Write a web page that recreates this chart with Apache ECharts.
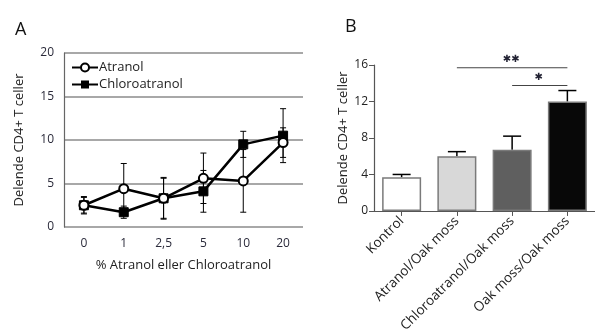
<!DOCTYPE html>
<html><head><meta charset="utf-8">
<script src="https://cdn.jsdelivr.net/npm/echarts@6/dist/echarts.min.js"></script>
<style>html,body{margin:0;padding:0;background:#fff}#c{width:595px;height:335px}</style>
</head><body><div id="c"></div>
<script>
// Panel A
const concA = ['0', '1', '2,5', '5', '10', '20'];
const atranolVals = [2.5, 4.4, 3.3, 5.6, 5.3, 9.7];
const atranolErr = [1.0, 2.9, 2.4, 2.9, 3.6, 1.7];
const chloroVals = [2.5, 1.7, 3.3, 4.1, 9.5, 10.5];
const chloroErr = [0.9, 0.7, 2.3, 2.4, 1.5, 3.1];
const yTicksA = [0, 5, 10, 15, 20];
// Panel B
const groupsB = ['Kontrol', 'Atranol/Oak moss', 'Chloroatranol/Oak moss', 'Oak moss/Oak moss'];
const barVals = [3.7, 6.0, 6.7, 12.0];
const barErr = [0.3, 0.5, 1.5, 1.2];
const barColors = ['#ffffff', '#d8d8d8', '#5f5f5f', '#080808'];
const yTicksB = [0, 4, 8, 12, 16];
const sigFrom = [1, 2];
const sigTo = [3, 3];
const sigLevel = [15.7, 13.75];
const sigText = ['✱✱', '✱'];

const FA = 'Open Sans';
const chart = echarts.init(document.getElementById('c'), null, {renderer: 'canvas'});

function errRender(capW, upOnly) {
  return function (params, api) {
    const i = api.value(0), v = api.value(1), e = api.value(2);
    const top = api.coord([i, v + e]);
    const bot = api.coord([i, upOnly ? v : v - e]);
    const children = [
      {type: 'line', shape: {x1: top[0], y1: top[1], x2: bot[0], y2: bot[1]}, style: {stroke: '#000', lineWidth: upOnly ? 1.5 : 1}},
      {type: 'line', shape: {x1: top[0] - capW / 2, y1: top[1], x2: top[0] + capW / 2, y2: top[1]}, style: {stroke: '#000', lineWidth: upOnly ? 1.5 : 1}}
    ];
    if (!upOnly) children.push({type: 'line', shape: {x1: bot[0] - capW / 2, y1: bot[1], x2: bot[0] + capW / 2, y2: bot[1]}, style: {stroke: '#000', lineWidth: 1}});
    return {type: 'group', children: children};
  };
}

const option = {
  animation: false,
  backgroundColor: '#fff',
  textStyle: {fontFamily: FA},
  title: [
    {text: 'A', left: 10, top: 16, textStyle: {fontSize: 18, fontWeight: 'normal', color: '#111', fontFamily: FA}},
    {text: 'B', left: 340, top: 13, textStyle: {fontSize: 18, fontWeight: 'normal', color: '#111', fontFamily: FA}}
  ],
  legend: {
    left: 66, top: 56, orient: 'vertical', itemGap: 4, itemWidth: 26, itemHeight: 10,
    data: ['Atranol', 'Chloroatranol'],
    textStyle: {fontSize: 13, color: '#222', fontFamily: FA, padding: [0, 0, 0, -4]}
  },
  grid: [
    {left: 64, right: 292, top: 53, bottom: 108},
    {left: 374, right: -4, top: 65, bottom: 121}
  ],
  xAxis: [
    {
      type: 'category', gridIndex: 0, data: concA, boundaryGap: true,
      axisLine: {show: false}, axisTick: {show: false},
      axisLabel: {color: '#2a2a3a', fontSize: 12, margin: 11, fontFamily: FA},
      name: '% Atranol eller Chloroatranol', nameLocation: 'middle', nameGap: 32,
      nameTextStyle: {fontSize: 13, color: '#222', fontFamily: FA}
    },
    {
      type: 'category', gridIndex: 1, data: groupsB,
      axisLine: {lineStyle: {color: '#555', width: 1.2}},
      axisTick: {show: true, alignWithLabel: true, length: 5, lineStyle: {color: '#555'}},
      axisLabel: {rotate: 45, fontSize: 13.5, color: '#222', margin: 8, fontFamily: FA}
    }
  ],
  yAxis: [
    {
      type: 'value', gridIndex: 0, min: 0, max: 20, interval: 5,
      axisLine: {show: true, lineStyle: {color: '#666', width: 1.2}},
      axisTick: {show: false},
      axisLabel: {color: '#2a2a3a', fontSize: 12, margin: 10, fontFamily: FA,
        formatter: function (v) { return yTicksA.indexOf(v) >= 0 ? String(v) : ''; }},
      splitLine: {show: true, lineStyle: {color: '#a8a8a8', width: 2}},
      name: 'Delende CD4+ T celler', nameLocation: 'middle', nameGap: 38,
      nameTextStyle: {fontSize: 13, color: '#222', fontFamily: FA}
    },
    {
      type: 'value', gridIndex: 1, min: 0, max: 16, interval: 4,
      axisLine: {show: true, lineStyle: {color: '#555', width: 1.2}},
      axisTick: {show: true, length: 5, lineStyle: {color: '#555'}},
      axisLabel: {color: '#222', fontSize: 12, margin: 6, fontFamily: FA,
        formatter: function (v) { return yTicksB.indexOf(v) >= 0 ? String(v) : ''; }},
      splitLine: {show: false},
      name: 'Delende CD4+ T celler', nameLocation: 'middle', nameGap: 24,
      nameTextStyle: {fontSize: 13, color: '#222', fontFamily: FA}
    }
  ],
  series: [
    {
      type: 'custom', xAxisIndex: 0, yAxisIndex: 0, z: 1, silent: true,
      renderItem: errRender(6, false),
      data: atranolVals.map((v, i) => [i, v, atranolErr[i]])
    },
    {
      type: 'custom', xAxisIndex: 0, yAxisIndex: 0, z: 1, silent: true,
      renderItem: errRender(6, false),
      data: chloroVals.map((v, i) => [i, v, chloroErr[i]])
    },
    {
      name: 'Chloroatranol', type: 'line', xAxisIndex: 0, yAxisIndex: 0, z: 3,
      data: chloroVals, symbol: 'rect', symbolSize: 9, showAllSymbol: true,
      lineStyle: {color: '#000', width: 2.5},
      itemStyle: {color: '#000', borderColor: '#000'}
    },
    {
      name: 'Atranol', type: 'line', xAxisIndex: 0, yAxisIndex: 0, z: 4,
      data: atranolVals, symbol: 'circle', symbolSize: 9, showAllSymbol: true,
      lineStyle: {color: '#000', width: 2.5},
      itemStyle: {color: '#fff', borderColor: '#000', borderWidth: 2}
    },
    {
      type: 'bar', xAxisIndex: 1, yAxisIndex: 1, barWidth: 39, z: 2,
      data: barVals.map((v, i) => ({value: v, itemStyle: {color: barColors[i]}})),
      itemStyle: {borderColor: '#7a7a7a', borderWidth: 1.5}
    },
    {
      type: 'custom', xAxisIndex: 1, yAxisIndex: 1, z: 1, silent: true,
      renderItem: errRender(18, true),
      data: barVals.map((v, i) => [i, v, barErr[i]])
    },
    {
      type: 'custom', xAxisIndex: 1, yAxisIndex: 1, z: 3, silent: true,
      renderItem: function (params, api) {
        const a = api.coord([api.value(0), api.value(2)]);
        const b = api.coord([api.value(1), api.value(2)]);
        const t = sigText[params.dataIndex];
        return {type: 'group', children: [
          {type: 'line', shape: {x1: a[0], y1: a[1], x2: b[0], y2: b[1]}, style: {stroke: '#444', lineWidth: 1.2}},
          {type: 'text', x: (a[0] + b[0]) / 2 - 1, y: a[1] - 3, style: {text: t, fill: '#223', font: '10px DejaVu Sans', textAlign: 'center', textVerticalAlign: 'bottom'}}
        ]};
      },
      data: sigFrom.map((f, i) => [f, sigTo[i], sigLevel[i]])
    }
  ]
};
chart.setOption(option);
</script>
</body></html>
